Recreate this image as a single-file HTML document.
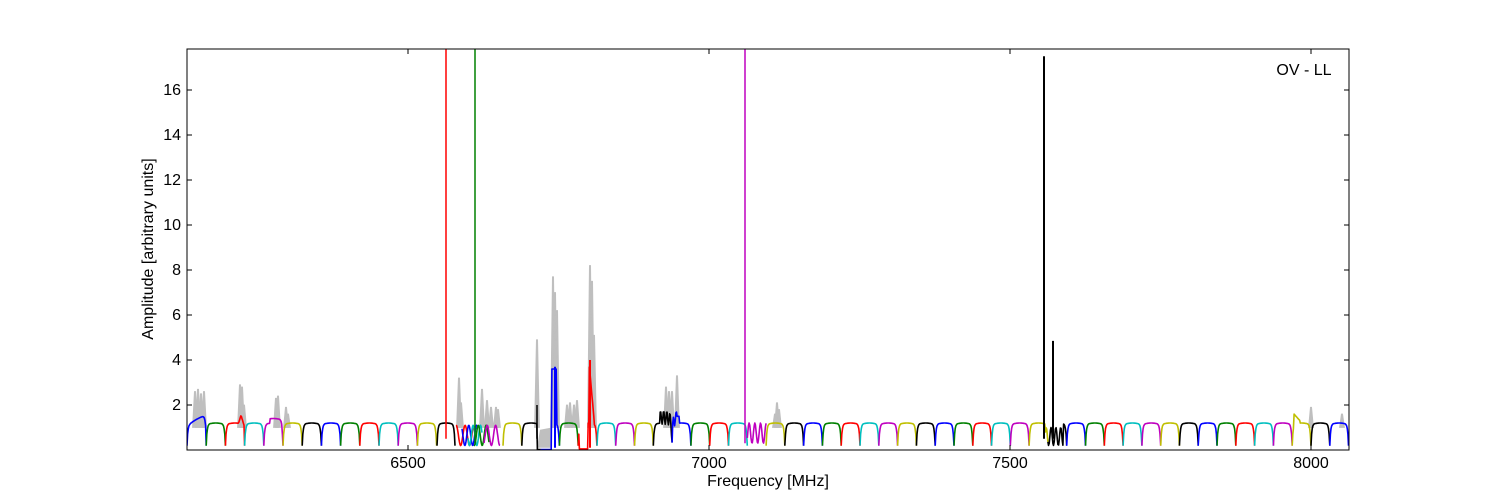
<!DOCTYPE html>
<html><head><meta charset="utf-8"><style>
html,body{margin:0;padding:0;background:#fff;width:1500px;height:500px;overflow:hidden}
svg text{font-family:"Liberation Sans","DejaVu Sans",sans-serif;font-size:16px;fill:#000}
</style></head><body>
<svg id="s" width="1500" height="500" xmlns="http://www.w3.org/2000/svg">
<defs><clipPath id="c"><rect x="187" y="49" width="1162" height="401"/></clipPath></defs>
<g id="gray" clip-path="url(#c)"></g>
<g id="data" clip-path="url(#c)"></g>
<rect x="187" y="49" width="1162" height="401" fill="none" stroke="#000" stroke-width="1"/>
<g id="ticks" stroke="#000" stroke-width="1"></g>
<g id="labels"></g>
<text x="1304" y="75" text-anchor="middle">OV - LL</text>
<text x="768" y="486" text-anchor="middle">Frequency [MHz]</text>
<text transform="translate(153,249) rotate(-90)" text-anchor="middle">Amplitude [arbitrary units]</text>
</svg>
<script>
var NS="http://www.w3.org/2000/svg";
function Y(v){return 450-v*22.5;}
function el(tag,attrs,parent){var e=document.createElementNS(NS,tag);for(var k in attrs)e.setAttribute(k,attrs[k]);document.getElementById(parent).appendChild(e);return e;}
var COL={b:"#0000ff",g:"#008000",r:"#ff0000",c:"#00bfbf",m:"#bf00bf",y:"#bfbf00",k:"#000000"};
var cyc=["b","g","r","c","m","y","k"];
var bands=[];
for(var k=0;k<13;k++)bands.push([187+k*19.2,19.2,cyc[k%7]]);
bands.push([437,18,"k"]);
bands.push([456,17,"r",1]);
bands.push([462,15,"b",1]);
bands.push([468,14,"c",1]);
bands.push([474,15,"g",1]);
bands.push([484,16,"m",1]);
var p=18.79;
for(var k=0;k<45;k++){var x=503+k*p;if(x>1349)break;bands.push([x,p,cyc[(5+k)%7]]);}
function shape(t){return 0.22+0.98*(1-Math.exp(-t*22))*(1-Math.exp(-(1-t)*22))-0.06*Math.abs(t-0.5);}
bands.forEach(function(b,i){
  var x0=b[0],w=b[1],c=b[2],pts=[];
  for(var j=0;j<=30;j++){
    var t=j/30,v=shape(t);
    if(b[3])v=0.55+0.45*Math.sin(t*12+i)+0.1;
    var x=x0+t*w;
    if(x<206&&x>190)v+=0.4*(x-190)/16;
    if(Math.abs(x-241)<3)v=Math.max(v,1.55-Math.abs(x-241)*0.15);
    if(x>270&&x<282&&c=="m")v+=0.2;
    if(x>537&&x<553)v=0.02;
    if(Math.abs(x-554)<2.5)v=3.6;
    if(x>579&&x<588)v=0.05;
    if(x>=589&&x<594)v=3.9-(x-589)*0.5;
    if(x>660&&x<678)v+=0.3*Math.sin(x*2)+0.25;
    if(Math.abs(x-678)<1.5)v=1.5;
    if(x>742&&x<768&&c=="m")v=0.75+0.45*Math.sin((x-742)*1.1);
    if(x>1045&&x<1063)v=0.6+0.4*Math.sin((x-1045)*1.3);
    if(x>1294&&x<1300)v=Math.max(v,1.6-(x-1294)*0.05);
    pts.push(x.toFixed(1)+","+Y(v).toFixed(1));
  }
  el("polyline",{points:pts.join(" "),fill:"none",stroke:COL[c],"stroke-width":1.6,"stroke-linejoin":"round"},"data");
});
function sp(x,v0,v1,c,w){el("line",{x1:x,x2:x,y1:Y(v0),y2:Y(v1),stroke:c,"stroke-width":w||1.5},"data");}
sp(446,0.5,17.8,COL.r);sp(475,0.3,17.8,COL.g);sp(745,0.3,17.8,COL.m);
sp(1044,0.5,17.5,COL.k,2);sp(1053,0.5,4.85,COL.k,2);
sp(537,0.5,2.0,COL.k);sp(555,0.1,3.7,COL.b,2);sp(590,0.1,4.0,COL.r,2);
var grays=[[195,2.6],[198,2.7],[201,2.5],[204,2.6],[240,2.9],[242,2.8],[244,2.0],[276,2.3],[278,2.4],[286,1.9],[288,1.6],[459,3.2],[461,2.1],[482,2.7],[487,2.2],[491,1.9],[496,1.9],[498,1.8],[537,4.9],[553,7.7],[555,7.0],[557,6.2],[567,2.0],[570,2.1],[574,2.0],[577,2.2],[590,8.2],[592,7.5],[594,5.1],[666,2.8],[669,2.6],[672,2.6],[677,3.3],[775,1.6],[777,2.1],[779,1.8],[1311,1.9],[1342,1.6]];
grays.forEach(function(g){el("polygon",{points:(g[0]-2.5)+","+Y(1.0)+" "+(g[0]-0.6)+","+Y(g[1])+" "+(g[0]+0.6)+","+Y(g[1])+" "+(g[0]+2.5)+","+Y(1.0),fill:"#bfbfbf",stroke:"#bfbfbf","stroke-width":0.8},"gray");});
el("polygon",{points:"537,"+Y(0.1)+" 540,"+Y(0.9)+" 552,"+Y(1.0)+" 552,"+Y(0.1),fill:"#bfbfbf"},"gray");
for(var v=2;v<=16;v+=2){var y=Y(v);
 el("line",{x1:187,x2:192,y1:y,y2:y},"ticks");el("line",{x1:1344,x2:1349,y1:y,y2:y},"ticks");
 var t=el("text",{x:181,y:y+5,"text-anchor":"end"},"labels");t.textContent=v;}
[6500,7000,7500,8000].forEach(function(f){var x=408+(f-6500)*0.602;
 el("line",{x1:x,x2:x,y1:445,y2:450},"ticks");el("line",{x1:x,x2:x,y1:49,y2:54},"ticks");
 var t=el("text",{x:x,y:468,"text-anchor":"middle"},"labels");t.textContent=f;});
</script>
</body></html>
